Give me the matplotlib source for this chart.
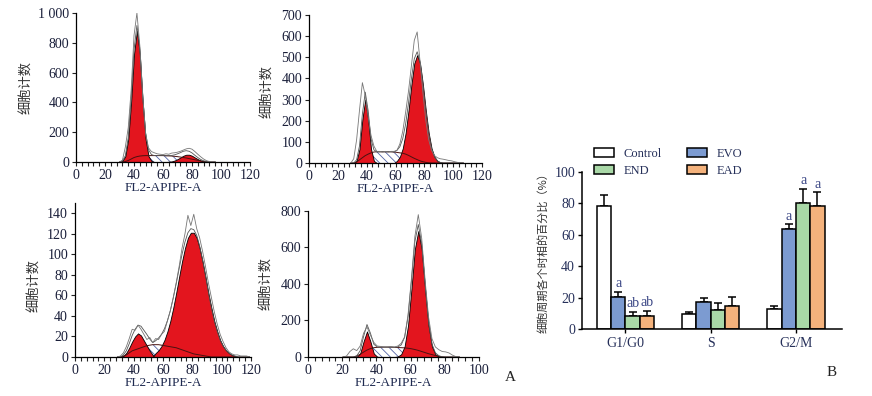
import matplotlib.pyplot as plt
import numpy as np
from matplotlib.ticker import MultipleLocator

plt.rcParams['font.family'] = ['Liberation Serif', 'Noto Sans CJK SC']
plt.rcParams['hatch.linewidth'] = 0.6
plt.rcParams['hatch.color'] = '#5363a6'

# ---- 流式直方图数据----
# 面板1 (左上)
p1_x = list(range(30, 98, 2))
p1_g1 = [0, 7, 39, 152, 403, 724, 880, 724, 403, 152, 39, 7, 0, 0, 0, 0, 0, 0, 0, 0, 0, 0, 0, 0, 0, 0, 0, 0, 0, 0, 0, 0, 0, 0]
p1_g2 = [0, 0, 0, 0, 0, 0, 0, 0, 0, 0, 0, 0, 0, 0, 0, 0, 0, 2, 4, 10, 19, 30, 42, 49, 49, 42, 30, 19, 10, 4, 2, 0, 0, 0]
p1_s = [0, 0, 3, 10, 20, 30, 36, 40, 42, 43, 43, 43, 43, 43, 43, 43, 42, 41, 40, 38, 36, 33, 30, 27, 23, 19, 15, 11, 7, 4, 2, 0, 0, 0]
p1_raw = [0, 12, 100, 230, 480, 850, 1000, 780, 440, 190, 95, 70, 62, 55, 52, 50, 55, 52, 60, 62, 66, 72, 80, 88, 92, 86, 70, 52, 35, 20, 9, 3, 0, 0]

# 面板2 (右上)
p2_x = list(range(29, 109, 2))
p2_g1 = [0, 0, 10, 66, 206, 300, 206, 66, 10, 0] + [0] * 30
p2_g2 = [0] * 16 + [10, 29, 69, 142, 248, 370, 471, 510, 471, 370, 248, 142, 69, 29, 10, 3] + [0] * 8
p2_s = [0, 0, 5, 15, 25, 35, 42, 48, 52, 53, 53, 53, 53, 53, 53, 52, 50, 48, 46, 42, 36, 29, 22, 16, 10, 6, 3, 1] + [0] * 12
p2_raw = [0, 20, 110, 250, 380, 320, 220, 130, 80, 55, 55, 52, 55, 52, 55, 55, 60, 90, 150, 240, 340, 460, 580, 620, 480, 330, 200, 110, 60, 35, 25, 20, 18, 15, 12, 10, 6, 3, 1, 0]

# 面板3 (左下)
p3_x = list(range(29, 121, 2))
p3_g1 = [0, 0, 1, 4, 9, 15, 20, 23, 21, 16, 11, 6, 2, 0] + [0] * 32
p3_g2 = [0] * 13 + [3.8, 6.5, 10.6, 16.5, 24.7, 35, 47.8, 62.3, 77.9, 93, 106, 116, 121, 121, 116, 106, 93, 78, 62, 48, 35, 25, 16.5, 10.6, 6.5, 3.8, 2, 1, 0] + [0] * 4
p3_s = [0, 0, 1, 2, 4, 6, 7, 8, 9, 10, 11, 11.5, 12, 12, 12, 11.5, 11, 10.5, 10, 9.5, 9, 8, 7, 6, 5, 4, 3, 2.5, 2, 1.5, 1, 0.5] + [0] * 14
p3_raw = [0, 1, 4, 10, 18, 27, 26, 31, 27, 22, 17, 19, 14, 18, 17, 22, 25, 35, 45, 58, 72, 88, 106, 120, 138, 128, 139, 125, 116, 103, 88, 72, 58, 44, 32, 22, 15, 9, 5, 3, 2, 2, 1, 1, 1, 0]

# 面板4 (右下)
p4_x = list(np.arange(20.5, 90, 2))
p4_g1 = [0, 0, 0, 0, 1.5, 19, 85, 140, 85, 19, 1.5] + [0] * 24
p4_g2 = [0] * 16 + [3, 15, 58, 172, 372, 591, 690, 591, 372, 172, 58, 15, 3] + [0] * 6
p4_s = [0, 0, 0, 0, 5, 15, 27, 38, 46, 51, 53, 54, 54, 54, 54, 53, 52, 51, 50, 48, 45, 41, 36, 30, 24, 18, 13, 8, 4, 1] + [0] * 5
p4_raw = [0, 5, 30, 45, 35, 60, 130, 165, 120, 80, 60, 58, 55, 55, 57, 55, 60, 75, 110, 230, 430, 660, 780, 650, 420, 220, 100, 55, 40, 30, 28, 22, 10, 2, 0]

# ---- 柱状图数据 ----
phases = ['G1/G0', 'S', 'G2/M']
groups = ['Control', 'EVO', 'END', 'EAD']
colors = ['white', '#7c9bd1', '#a9d8a7', '#f4b27c']
means = {
    'Control': [78.4, 9.8, 12.8],
    'EVO': [20.1, 17.2, 63.8],
    'END': [8.5, 12.3, 80.2],
    'EAD': [8.5, 14.5, 78.2],
}
errs = {
    'Control': [7.2, 1.2, 1.8],
    'EVO': [3.6, 2.6, 2.8],
    'END': [2.6, 4.0, 9.0],
    'EAD': [3.1, 5.6, 8.8],
}
marks = {
    'Control': ['', '', ''],
    'EVO': ['a', '', 'a'],
    'END': ['ab', '', 'a'],
    'EAD': ['ab', '', 'a'],
}

fig = plt.figure(figsize=(8.72, 3.96), dpi=100)

panels = [
    (p1_x, p1_g1, p1_g2, p1_s, p1_raw, [0.0872, 0.5909, 0.1995, 0.3763], (0, 120), (0, 1000), 200, ['0', '200', '400', '600', '800', '1 000'], (0.031, 0.78)),
    (p2_x, p2_g1, p2_g2, p2_s, p2_raw, [0.3544, 0.5884, 0.1984, 0.3737], (0, 120), (0, 700), 100, None, (0.307, 0.77)),
    (p3_x, p3_g1, p3_g2, p3_s, p3_raw, [0.0860, 0.0985, 0.2018, 0.3890], (0, 120), (0, 150), 20, None, (0.040, 0.28)),
    (p4_x, p4_g1, p4_g2, p4_s, p4_raw, [0.3532, 0.0985, 0.1961, 0.3687], (0, 100), (0, 800), 200, None, (0.306, 0.285)),
]

for x, g1, g2, s, raw, rect, xl, yl, ystep, ylabels, ylab_pos in panels:
    ax = fig.add_axes(rect)
    x = np.array(x, dtype=float)
    g1 = np.array(g1, dtype=float)
    g2 = np.array(g2, dtype=float)
    s = np.array(s, dtype=float)
    raw = np.array(raw, dtype=float)
    fit = g1 + g2 + s

    ax.fill_between(x, 0, s, facecolor='white', edgecolor='#5363a6', hatch='\\\\\\\\', linewidth=0)
    ax.fill_between(x, 0, g1, where=g1 > 0, facecolor='#e3151e', edgecolor='black', linewidth=0.6, interpolate=True)
    ax.fill_between(x, 0, g2, where=g2 > 0, facecolor='#e3151e', edgecolor='black', linewidth=0.6, interpolate=True)
    ax.plot(x, s, color='#4a1210', lw=0.7)
    ax.plot(x, fit, color='#555555', lw=0.6)
    ax.plot(x, raw, color='#777777', lw=0.6)

    ax.set_xlim(*xl)
    ax.set_ylim(*yl)
    for side in ['top', 'right']:
        ax.spines[side].set_visible(False)
    for side in ['left', 'bottom']:
        ax.spines[side].set_linewidth(0.9)
    ax.xaxis.set_major_locator(MultipleLocator(20))
    ax.xaxis.set_minor_locator(MultipleLocator(4))
    ax.yaxis.set_major_locator(MultipleLocator(ystep))
    ax.tick_params(axis='both', which='both', direction='out', length=3, width=0.8, labelsize=10, pad=2,
                   colors='#222222', labelcolor='#1a1f3a')
    if ylabels is not None:
        ax.set_yticks(np.arange(0, yl[1] + 1, ystep))
        ax.set_yticklabels(ylabels)
    ax.set_xlabel('FL2-APIPE-A', fontsize=9.5, labelpad=0, color='#1f2a50')
    fig.text(ylab_pos[0], ylab_pos[1], '细胞计数', rotation=90, fontsize=9.5,
             family=['Noto Sans CJK SC'], ha='center', va='center', color='#333333')
    ax.patch.set_alpha(0)

fig.text(0.579, 0.038, 'A', fontsize=11, color='#222222')

# ---- 柱状图 ----
bx = fig.add_axes([0.6674, 0.1692, 0.2982, 0.3965])
pos = np.arange(len(phases))
w = 0.168
txt = '#26305a'
for i, g in enumerate(groups):
    xs = pos + (i - 1.5) * w
    bx.bar(xs, means[g], width=w, color=colors[i], edgecolor='black', linewidth=1.1, label=g, zorder=2)
    bx.errorbar(xs, means[g], yerr=[[0] * 3, errs[g]], fmt='none', ecolor='black', elinewidth=1.1, capsize=2.6, capthick=1.1, zorder=1)
    for xx, m, e, t in zip(xs, means[g], errs[g], marks[g]):
        if t:
            bx.text(xx, m + e + 1.0, t, ha='center', va='bottom', fontsize=10, color='#3a4685')

bx.set_xlim(-0.51, 2.54)
bx.set_ylim(0, 100)
bx.set_xticks(pos)
bx.set_xticklabels(phases)
bx.yaxis.set_major_locator(MultipleLocator(20))
for side in ['top', 'right']:
    bx.spines[side].set_visible(False)
for side in ['left', 'bottom']:
    bx.spines[side].set_linewidth(1.1)
bx.tick_params(axis='both', direction='out', length=3, width=1.0, labelsize=10, colors='black', labelcolor=txt, pad=2)
bx.tick_params(axis='x', pad=3)
fig.text(0.623, 0.369, '细胞周期各个时相的百分比（%）', rotation=90, fontsize=8,
         family=['Noto Sans CJK SC'], ha='center', va='center', color='#333333')

h, l = bx.get_legend_handles_labels()
order = [0, 2, 1, 3]
bx.legend([h[k] for k in order], [l[k] for k in order], ncol=2, frameon=False,
          loc='upper left', bbox_to_anchor=(0.668, 0.655), bbox_transform=fig.transFigure,
          fontsize=9, handlelength=1.6, handleheight=0.7, columnspacing=2.0,
          handletextpad=0.8, labelspacing=0.4, labelcolor=txt)

fig.text(0.948, 0.05, 'B', fontsize=11, color='#222222')

fig.savefig('out.png', dpi=100)
